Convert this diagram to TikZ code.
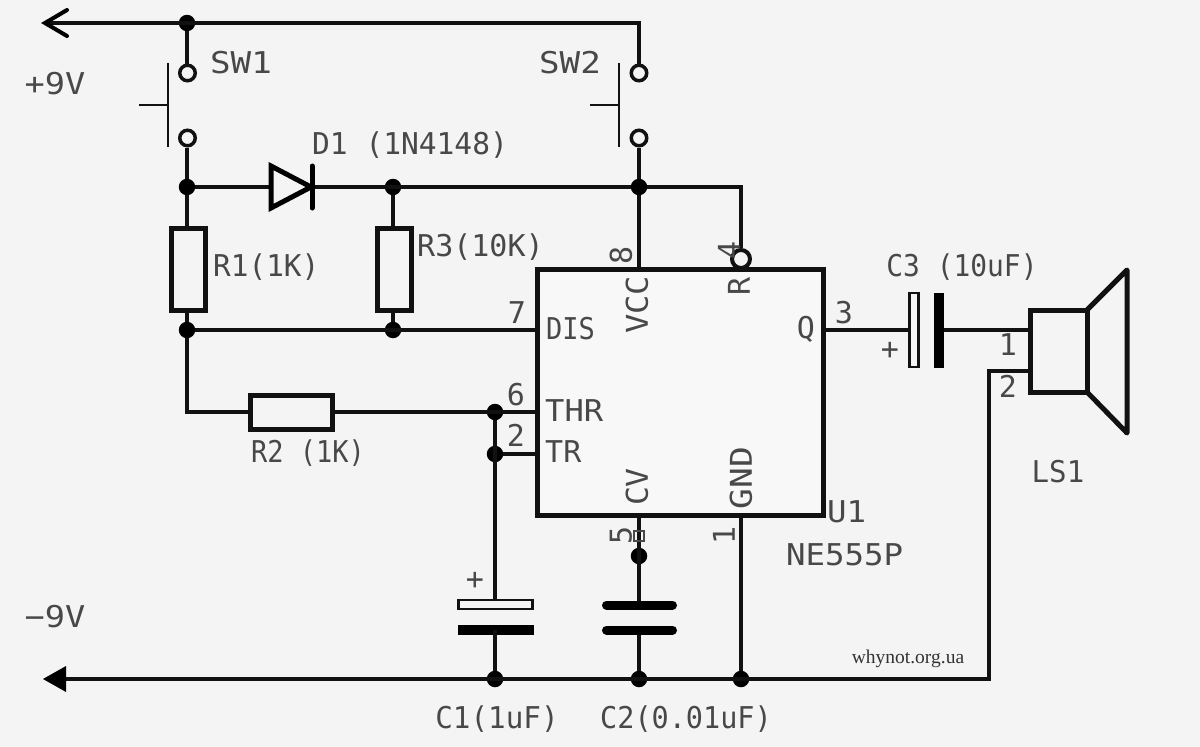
\documentclass[tikz,border=0pt]{standalone}
\usepackage{graphicx}
\usepackage{fontspec}
\setmainfont{DejaVu Sans Mono}
\newfontfamily\credit{Liberation Serif}
\newcommand{\sx}[2]{\scalebox{#1}[1]{#2}}
\definecolor{bgc}{HTML}{F4F4F4}
\definecolor{icc}{HTML}{F8F8F8}
\definecolor{txc}{HTML}{484848}
\definecolor{wirec}{HTML}{111111}
\tikzset{
 x=1pt,y=-1pt,
 wire/.style={draw=wirec,line width=3.5pt},
 junc/.style={circle,fill=black,inner sep=0pt,minimum size=16.5pt},
 pad/.style={circle,draw=wirec,fill=bgc,line width=3.5pt,inner sep=0pt,minimum size=15.5pt},
 lab/.style={text=txc,font=\fontsize{30}{30}\selectfont,inner sep=0pt},
 pinl/.style={lab},
 rbox/.style={draw=wirec,fill=bgc,line width=5pt,inner sep=0pt},
 thin bar/.style={draw=wirec,line width=2.5pt},
 plate/.style={draw=black,line width=9pt,line cap=round},
}
\begin{document}
\begin{tikzpicture}
\useasboundingbox (0,0) rectangle (1200,747);
\fill[bgc] (0,0) rectangle (1200,747);
% named points
\coordinate (tl) at (45,23); \coordinate (tr) at (639,23);
\coordinate (bl) at (46,679); \coordinate (br) at (989,679); \coordinate (brup) at (989,371);
\coordinate (rc) at (741,187); \coordinate (r2c) at (187,412);
% IC
\node[draw=wirec,fill=icc,line width=5pt,minimum width=286pt,minimum height=246pt,inner sep=0pt] (ic) at (680,392) {};
\coordinate (icdis) at (537,330); \coordinate (icthr) at (537,412); \coordinate (ictr) at (537,454);
\coordinate (icvcc) at (639,269); \coordinate (icq) at (823,330); \coordinate (iccv) at (639,515); \coordinate (icgnd) at (741,515);
% junctions
\node[junc] (j1) at (187,23) {};
\node[junc] (j2) at (187,187) {};
\node[junc] (j3) at (393,187) {};
\node[junc] (j4) at (639,187) {};
\node[junc] (j5) at (187,330) {};
\node[junc] (j6) at (393,330) {};
\node[junc] (j7) at (495,412) {};
\node[junc] (j8) at (495,454) {};
\node[junc] (j9) at (639,556) {};
\node[junc] (j10) at (495,679) {};
\node[junc] (j11) at (639,679) {};
\node[junc] (j12) at (741,679) {};
% switches
\node[pad] (s1a) at (187.5,73) {};
\node[pad] (s1b) at (187.5,138) {};
\node[pad] (s2a) at (639,73) {};
\node[pad] (s2b) at (639,138) {};
\draw[wire] (tl) -- (tr) -- (s2a);
\draw[wire] (j1) -- (j1 |- s1a.north);
\draw[wire] (j2 |- s1b.south) -- (j2);
\draw[wire] (s2b) -- (j4);
\draw[thin bar] (168,63) -- (168,147); \draw[thin bar] (139,105) -- (168,105);
\draw[thin bar] (619,63) -- (619,147); \draw[thin bar] (590,105) -- (619,105);
\draw[draw=black,line width=4pt,line cap=round,line join=miter] (67,10) -- (45,23) -- (67,36);
% resistors
\node[rbox,minimum width=34pt,minimum height=82pt] (r1) at (188,269) {};
\node[rbox,minimum width=34pt,minimum height=82pt] (r3) at (394,269) {};
\node[rbox,minimum width=82pt,minimum height=34pt] (r2) at (291,412) {};
\draw[wire] (j2) -- (j2 |- r1.north); \draw[wire] (j5 |- r1.south) -- (j5);
\draw[wire] (j3) -- (j3 |- r3.north); \draw[wire] (j6 |- r3.south) -- (j6);
\draw[wire] (j5) -- (icdis);
\draw[wire] (j5) -- (r2c) -- (r2);
\draw[wire] (r2) -- (icthr);
\draw[wire] (j8) -- (ictr);
\draw[wire] (j7) -- (495,600);
% top rail
\node[circle,draw=wirec,fill=bgc,line width=4pt,inner sep=0pt,minimum size=18pt] (bub) at (741,259) {};
\draw[wire] (j2) -- (270,187);
\draw[wire] (312,187) -- (j4);
\draw[wire] (j4) -- (rc) -- (bub);
\draw[wire] (j4) -- (icvcc);
\draw[draw=black,line width=5pt,fill=bgc,line join=miter] (271,166) -- (271,208) -- (311,187) -- cycle;
\draw[draw=black,line width=5pt,line cap=round] (312,166) -- (312,208);
% C1
\node[draw=wirec,fill=bgc,line width=2.5pt,minimum width=74pt,minimum height=9pt,inner sep=0pt] (c1p) at (495.5,604.5) {};
\node[fill=black,minimum width=76pt,minimum height=10pt,inner sep=0pt] (c1n) at (495.5,630) {};
\draw[wire] (495,630) -- (j10);
% C2
\coordinate (c2a) at (639,605); \coordinate (c2b) at (639,630);
\draw[wire] (iccv) -- (c2a); \draw[wire] (c2b) -- (j11);
\draw[plate] (606.5,605) -- (672.5,605);
\draw[plate] (606.5,630) -- (672.5,630);
\node[draw=txc,line width=1.5pt,minimum width=10pt,minimum height=10pt,inner sep=0pt] (cvbox) at (639,536) {};
\draw[wire] (icgnd) -- (j12);
% bottom rail
\draw[wire] (bl) -- (br) -- (brup) -- (1032,371);
\fill[black] (43,679) -- (66,666) -- (66,692) -- cycle;
% C3
\node[draw=wirec,fill=bgc,line width=2.5pt,minimum width=9pt,minimum height=74pt,inner sep=0pt] (c3p) at (914,330) {};
\node[fill=black,minimum width=10pt,minimum height=75pt,inner sep=0pt] (c3n) at (938.5,330) {};
% speaker
\node[rbox,minimum width=57pt,minimum height=82pt] (ls) at (1058.5,351) {};
\draw[draw=wirec,line width=5pt,line join=round] (1087,310) -- (1127,270) -- (1127,433) -- (1087,392);
\draw[wire] (icq) -- (c3p);
\draw[wire] (c3n) -- (ls.west |- c3n);
% texts
\node[lab] (t1) at (55,84) {\sx{1.12}{+9V}};
\node[lab] (t2) at (55,617) {\sx{1.12}{−9V}};
\node[lab] (t3) at (241,63) {\sx{1.14}{SW1}};
\node[lab] (t4) at (570,63) {\sx{1.14}{SW2}};
\node[lab] (t5) at (410,145) {\sx{.985}{D1 (1N4148)}};
\node[lab,anchor=west] (t6) at (213,267) {\sx{.98}{R1(1K)}};
\node[lab,anchor=west] (t7) at (417,247) {R3(10K)};
\node[lab] (t8) at (308,453) {\sx{.9}{R2 (1K)}};
\node[pinl,rotate=90] (t9) at (621,255) {8};
\node[pinl,rotate=90] (t10) at (729,250) {4};
\node[pinl,rotate=90] (t11) at (739,286) {R};
\node[pinl,rotate=90] (t12) at (637,305) {\sx{1.07}{VCC}};
\node[pinl,anchor=west] (t13) at (546,329) {\sx{.9}{DIS}};
\node[pinl] (t14) at (517,313) {7};
\node[pinl] (t15) at (806,329) {Q};
\node[pinl] (t16) at (844,313) {3};
\node[pinl] (t17) at (516,395) {6};
\node[pinl,anchor=west] (t18) at (545,411) {\sx{1.07}{THR}};
\node[pinl] (t19) at (516,435) {2};
\node[pinl,anchor=west] (t20) at (545,452) {TR};
\node[pinl,rotate=90] (t21) at (637,487) {\sx{1.05}{CV}};
\node[pinl,rotate=90] (t22) at (741,478) {\sx{1.15}{GND}};
\node[pinl,rotate=90] (t23) at (621,535) {5};
\node[pinl,rotate=90] (t24) at (724,535) {1};
\node[lab,anchor=west] (t25) at (827,512) {\sx{1.08}{U1}};
\node[lab,anchor=west] (t26) at (786,555) {\sx{1.08}{NE555P}};
\node[lab] (t27) at (962,267) {\sx{.93}{C3 (10uF)}};
\node[lab] (t28) at (890,351) {+};
\node[pinl] (t29) at (1008,345) {1};
\node[pinl] (t30) at (1008,386) {2};
\node[lab] (t31) at (1058,472) {\sx{.97}{LS1}};
\node[lab] (t32) at (475,581) {+};
\node[lab] (t33) at (497,719) {\sx{.975}{C1(1uF)}};
\node[lab] (t34) at (686,719) {\sx{.95}{C2(0.01uF)}};
\node[text=black!80,inner sep=0pt,font=\credit\fontsize{19.5}{20}\selectfont] (t35) at (908,659) {whynot.org.ua};
\end{tikzpicture}
\end{document}
